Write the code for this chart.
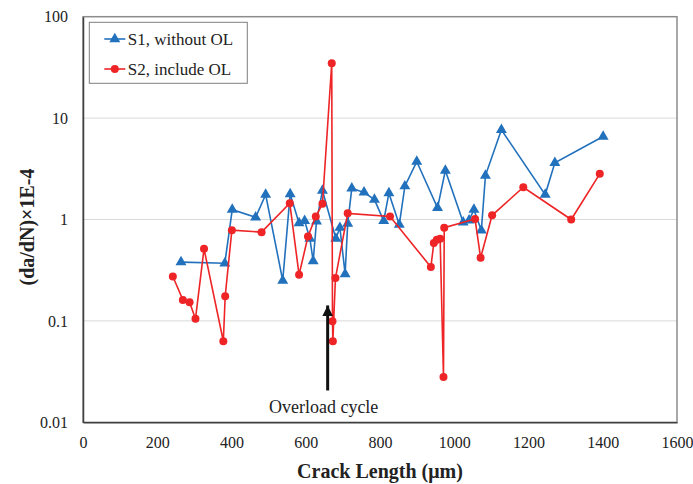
<!DOCTYPE html>
<html>
<head>
<meta charset="utf-8">
<script src="https://cdn.jsdelivr.net/npm/d3@7"></script>
<style>
  body { margin: 0; background: #fff; }
  text { font-family: "Liberation Serif", "Times New Roman", serif; }
</style>
</head>
<body>
<div id="chart"></div>
<script>
// chart size
const wide = 693;
const high = 484;
const margin = { top: 16.7, right: 16, bottom: 61.7, left: 83 };

// S1, without OL (crack length in um, da/dN x 1E-4)
const s1Length = [264, 382, 402, 465, 492, 538, 558, 582, 597, 611, 620, 629, 645, 681, 692, 706, 713, 724, 757, 785, 810, 824, 852, 867, 899, 955, 976, 1024, 1040, 1053, 1073, 1084, 1127, 1245, 1271, 1401];
const s1Rate = [0.38, 0.37, 1.25, 1.05, 1.76, 0.25, 1.78, 0.92, 0.97, 0.65, 0.39, 0.96, 1.93, 0.65, 0.83, 0.29, 0.91, 2.03, 1.85, 1.57, 0.97, 1.82, 0.89, 2.13, 3.73, 1.30, 3.04, 0.94, 0.98, 1.25, 0.78, 2.71, 7.66, 1.76, 3.62, 6.58];

// S2, include OL
const s2Length = [242, 269, 287, 303, 326, 378, 383, 401, 481, 557, 582, 606, 627, 645, 670, 672, 673, 680, 713, 827, 937, 945, 953, 962, 971, 973, 1056, 1071, 1102, 1186, 1315, 1392];
const s2Rate = [0.274, 0.161, 0.153, 0.105, 0.514, 0.063, 0.175, 0.785, 0.75, 1.45, 0.285, 0.68, 1.07, 1.43, 34.8, 0.099, 0.063, 0.265, 1.15, 1.07, 0.34, 0.585, 0.63, 0.645, 0.028, 0.83, 1.01, 0.42, 1.1, 2.08, 1.0, 2.82];

// axis ticks
const xTicks = [0, 200, 400, 600, 800, 1000, 1200, 1400, 1600];
const yTicks = [0.01, 0.1, 1, 10, 100];
const yTickLabels = ["0.01", "0.1", "1", "10", "100"];

// overload annotation
const overloadX = 659;
const overloadFrom = 0.0206;
const overloadTo = 0.142;

const blue = "#2271bd";
const red = "#ee2426";

const svg = d3
   .select("#chart")
   .append("svg")
   .attr("width", wide)
   .attr("height", high);

const x = d3
   .scaleLinear()
   .domain([0, 1600])
   .range([margin.left, wide - margin.right]);

const y = d3
   .scaleLog()
   .domain([0.01, 100])
   .range([high - margin.bottom, margin.top]);

// gridlines
svg.append("g")
   .selectAll("line")
   .data(yTicks.slice(1, -1))
   .enter()
   .append("line")
   .attr("x1", x(0))
   .attr("x2", x(1600))
   .attr("y1", (d) => y(d))
   .attr("y2", (d) => y(d))
   .attr("stroke", "#d9d9d9")
   .attr("stroke-width", 1);

// plot frame
svg.append("rect")
   .attr("x", x(0))
   .attr("y", y(100))
   .attr("width", x(1600) - x(0))
   .attr("height", y(0.01) - y(100))
   .attr("fill", "none")
   .attr("stroke", "#8c8c8c")
   .attr("stroke-width", 1.5);

// X axis
const xAxis = d3
   .axisBottom(x)
   .tickValues(xTicks)
   .tickFormat(d3.format("d"))
   .tickSize(0)
   .tickPadding(14);
svg.append("g")
   .attr("transform", `translate(0, ${y(0.01)})`)
   .call(xAxis)
   .call((g) => g.select(".domain").attr("stroke", "#404040").attr("stroke-width", 1.5))
   .call((g) => g.selectAll("text").attr("font-size", 16).attr("fill", "#222").attr("font-family", "Liberation Serif"));

// Y axis
const yAxis = d3
   .axisLeft(y)
   .tickValues(yTicks)
   .tickFormat((d, i) => yTickLabels[i])
   .tickSize(0)
   .tickPadding(15);
svg.append("g")
   .attr("transform", `translate(${x(0)}, 0)`)
   .call(yAxis)
   .call((g) => g.select(".domain").attr("stroke", "#404040").attr("stroke-width", 1.5))
   .call((g) => g.selectAll("text").attr("font-size", 16).attr("fill", "#222").attr("font-family", "Liberation Serif"));

// axis titles
svg.append("text")
   .attr("x", x(800))
   .attr("y", 478)
   .attr("text-anchor", "middle")
   .attr("font-size", 20)
   .attr("font-weight", "bold")
   .attr("fill", "#222")
   .text("Crack Length (μm)");

svg.append("text")
   .attr("transform", "translate(34, 227) rotate(-90)")
   .attr("text-anchor", "middle")
   .attr("font-size", 20)
   .attr("font-weight", "bold")
   .attr("fill", "#222")
   .text("(da/dN)×1E-4");

const line = d3
   .line()
   .x((d) => x(d[0]))
   .y((d) => y(d[1]));

const s1 = s1Length.map((v, i) => [v, s1Rate[i]]);
const s2 = s2Length.map((v, i) => [v, s2Rate[i]]);

const triangle = d3.symbol().type(d3.symbolTriangle).size(52);

// S1 line + triangles
svg.append("path")
   .datum(s1)
   .attr("d", line)
   .attr("fill", "none")
   .attr("stroke", blue)
   .attr("stroke-width", 1.6);

svg.append("g")
   .selectAll("path")
   .data(s1)
   .enter()
   .append("path")
   .attr("d", triangle)
   .attr("transform", (d) => `translate(${x(d[0])}, ${y(d[1])})`)
   .attr("fill", blue);

// S2 line + circles
svg.append("path")
   .datum(s2)
   .attr("d", line)
   .attr("fill", "none")
   .attr("stroke", red)
   .attr("stroke-width", 1.6);

svg.append("g")
   .selectAll("circle")
   .data(s2)
   .enter()
   .append("circle")
   .attr("cx", (d) => x(d[0]))
   .attr("cy", (d) => y(d[1]))
   .attr("r", 4)
   .attr("fill", red);

// overload arrow
svg.append("defs")
   .append("marker")
   .attr("id", "head")
   .attr("viewBox", "0 0 10 10")
   .attr("refX", 10)
   .attr("refY", 5)
   .attr("markerWidth", 3.6)
   .attr("markerHeight", 3.6)
   .attr("markerUnits", "strokeWidth")
   .attr("orient", "auto")
   .append("path")
   .attr("d", "M0,0 L10,5 L0,10 z")
   .attr("fill", "#111");

svg.append("line")
   .attr("x1", x(overloadX))
   .attr("x2", x(overloadX))
   .attr("y1", y(overloadFrom))
   .attr("y2", y(overloadTo))
   .attr("stroke", "#111")
   .attr("stroke-width", 3)
   .attr("marker-end", "url(#head)");

svg.append("text")
   .attr("x", x(overloadX) - 4)
   .attr("y", y(overloadFrom) + 23)
   .attr("text-anchor", "middle")
   .attr("font-size", 18)
   .attr("fill", "#222")
   .text("Overload cycle");

// legend
const legend = svg.append("g").attr("transform", "translate(89.3, 22.3)");
legend.append("rect")
   .attr("width", 158)
   .attr("height", 61)
   .attr("fill", "#fff")
   .attr("stroke", "#7f7f7f")
   .attr("stroke-width", 1);

const legendItems = [
   { name: "S1, without OL", color: blue, mark: "tri" },
   { name: "S2, include OL", color: red, mark: "dot" },
];

legendItems.forEach((item, i) => {
   const row = legend.append("g").attr("transform", `translate(0, ${16.7 + i * 30})`);
   row.append("line")
      .attr("x1", 15)
      .attr("x2", 36)
      .attr("stroke", item.color)
      .attr("stroke-width", 1.6);
   if (item.mark === "tri") {
      row.append("path")
         .attr("d", triangle)
         .attr("transform", "translate(25.5, 0)")
         .attr("fill", item.color);
   } else {
      row.append("circle")
         .attr("cx", 25.5)
         .attr("r", 4)
         .attr("fill", item.color);
   }
   row.append("text")
      .attr("x", 38.5)
      .attr("y", 6)
      .attr("font-size", 17)
      .attr("fill", "#222")
      .text(item.name);
});
</script>
</body>
</html>
